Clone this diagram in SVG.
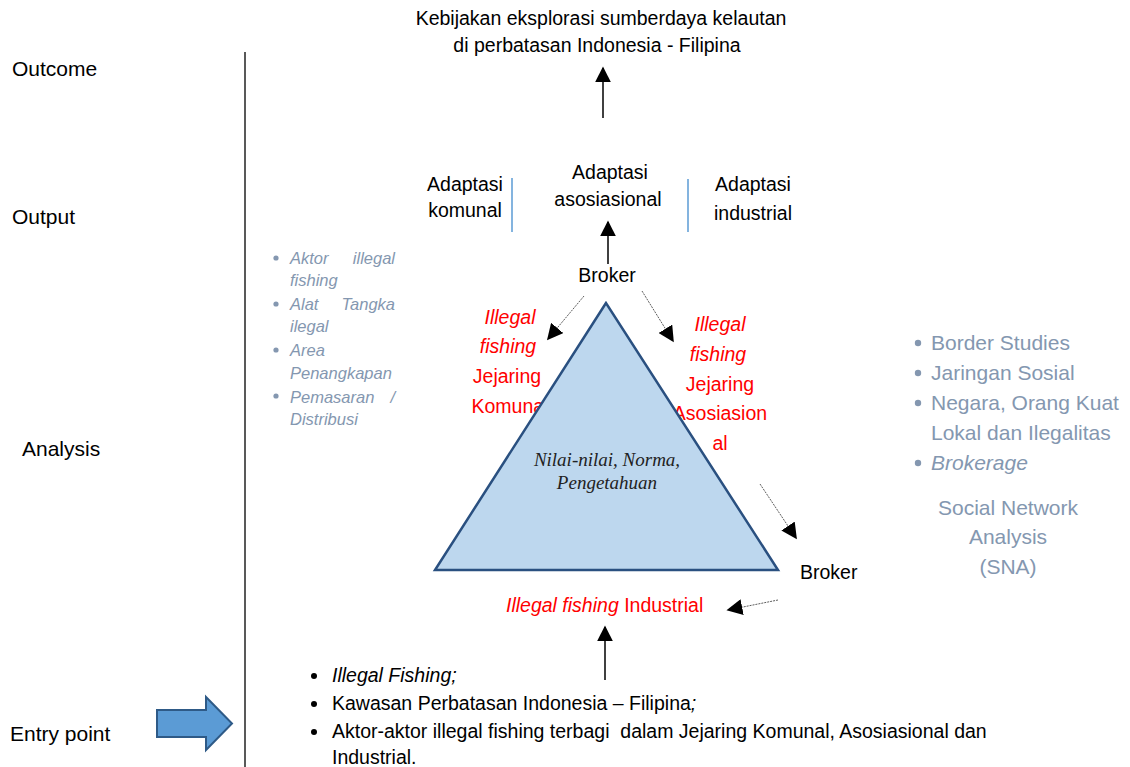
<svg xmlns="http://www.w3.org/2000/svg" width="1130" height="767" viewBox="0 0 1130 767">
<defs>
<style>
text{font-family:"Liberation Sans",Arial,sans-serif;font-size:19.5px;fill:#000}
.c{text-anchor:middle}
.red{fill:#FF0000}
.it{font-style:italic}
.gb{fill:#8497B0}
.sm{font-size:16.5px}
.lg{font-size:21px}
.st{font-size:21px}
.bl{font-size:19.5px;white-space:pre}
.serif{font-family:"Liberation Serif","Times New Roman",serif;font-style:italic;font-size:19px;fill:#222}
.solid{stroke:#000;stroke-width:1.5;fill:none}
.thin{stroke:#333;stroke-width:0.8;stroke-dasharray:2 1;fill:none}
</style>
<marker id="ah2" viewBox="0 0 10 10" refX="9" refY="5" markerWidth="16" markerHeight="16" markerUnits="userSpaceOnUse" orient="auto">
<path d="M0,0 L10,5 L0,10 z" fill="#000"/>
</marker>
</defs>
<rect width="1130" height="767" fill="#fff"/>

<g id="stage-labels">
<text class="st" x="12" y="76">Outcome</text>
<text class="st" x="12" y="224">Output</text>
<text class="st" x="22" y="456">Analysis</text>
<text class="st" x="10" y="741">Entry point</text>
<line x1="245" y1="52" x2="245" y2="767" stroke="#222" stroke-width="1.5"/>
</g>

<g id="outcome">
<text class="c" x="601" y="25">Kebijakan eksplorasi sumberdaya kelautan</text>
<text class="c" x="597" y="52">di perbatasan Indonesia - Filipina</text>
</g>

<g id="output">
<text class="c" x="465" y="191">Adaptasi</text>
<text class="c" x="465" y="217">komunal</text>
<line x1="512" y1="178" x2="512" y2="232" stroke="#5B9BD5" stroke-width="1.5"/>
<text class="c" x="610" y="179">Adaptasi</text>
<text class="c" x="608" y="206">asosiasional</text>
<line x1="688" y1="179" x2="688" y2="232" stroke="#5B9BD5" stroke-width="1.5"/>
<text class="c" x="753" y="191">Adaptasi</text>
<text class="c" x="753" y="220">industrial</text>
</g>

<g id="broker-top"><text class="c" x="607" y="282">Broker</text></g>
<g id="broker-right"><text x="800" y="579">Broker</text></g>

<g id="jejaring-komunal">
<text class="c red it" x="510" y="324">Illegal</text>
<text class="c red it" x="508" y="353">fishing</text>
<text class="c red" x="507" y="383">Jejaring</text>
<text class="c red" x="510" y="413">Komunal</text>
</g>

<g id="jejaring-asosiasional">
<text class="c red it" x="720" y="331">Illegal</text>
<text class="c red it" x="718" y="361">fishing</text>
<text class="c red" x="720" y="391">Jejaring</text>
<text class="c red" x="720" y="420">Asosiasion</text>
<text class="c red" x="720" y="450">al</text>
</g>

<g id="triangle">
<polygon points="606,303 435,570 778,570" fill="#BDD7EE" stroke="#2A5080" stroke-width="2.5"/>
<text class="c serif" x="607" y="466">Nilai-nilai, Norma,</text>
<text class="c serif" x="607" y="489">Pengetahuan</text>
</g>

<g id="industrial">
<text x="506" y="612" class="red"><tspan class="it">Illegal fishing</tspan> Industrial</text>
</g>

<g id="left-list">
<circle cx="276" cy="258" r="2.6" fill="#8497B0"/>
<circle cx="276" cy="304" r="2.6" fill="#8497B0"/>
<circle cx="276" cy="350" r="2.6" fill="#8497B0"/>
<circle cx="276" cy="396" r="2.6" fill="#8497B0"/>
<text class="gb it sm" x="290" y="264">Aktor</text>
<text class="gb it sm" x="395" y="264" text-anchor="end">illegal</text>
<text class="gb it sm" x="290" y="286">fishing</text>
<text class="gb it sm" x="290" y="310">Alat</text>
<text class="gb it sm" x="395" y="310" text-anchor="end">Tangka</text>
<text class="gb it sm" x="290" y="332">ilegal</text>
<text class="gb it sm" x="290" y="356">Area</text>
<text class="gb it sm" x="290" y="379">Penangkapan</text>
<text class="gb it sm" x="290" y="403">Pemasaran</text>
<text class="gb it sm" x="395" y="403" text-anchor="end">/</text>
<text class="gb it sm" x="290" y="425">Distribusi</text>
</g>

<g id="right-list">
<circle cx="918" cy="343" r="3.2" fill="#8497B0"/>
<circle cx="918" cy="373" r="3.2" fill="#8497B0"/>
<circle cx="918" cy="403" r="3.2" fill="#8497B0"/>
<circle cx="918" cy="463" r="3.2" fill="#8497B0"/>
<text class="gb lg" x="931" y="350">Border Studies</text>
<text class="gb lg" x="931" y="380">Jaringan Sosial</text>
<text class="gb lg" x="931" y="410">Negara, Orang Kuat</text>
<text class="gb lg" x="931" y="440">Lokal dan Ilegalitas</text>
<text class="gb lg it" x="931" y="470">Brokerage</text>
<text class="gb lg c" x="1008" y="515">Social Network</text>
<text class="gb lg c" x="1008" y="544">Analysis</text>
<text class="gb lg c" x="1008" y="574">(SNA)</text>
</g>

<g id="entry">
<circle cx="314" cy="676" r="3" fill="#000"/>
<circle cx="314" cy="704" r="3" fill="#000"/>
<circle cx="314" cy="732" r="3" fill="#000"/>
<text x="332" y="682" class="bl it">Illegal Fishing;</text>
<text x="332" y="710" class="bl">Kawasan Perbatasan Indonesia – Filipina<tspan class="it">;</tspan></text>
<text x="332" y="738" class="bl">Aktor-aktor illegal fishing terbagi  dalam Jejaring Komunal, Asosiasional dan</text>
<text x="332" y="764" class="bl">Industrial.</text>
<polygon points="157,710 206,710 206,697 232,723.5 206,750 206,737 157,737" fill="#5B9BD5" stroke="#2E5A87" stroke-width="2"/>
</g>

<g id="connectors">
<line class="solid" x1="603" y1="118" x2="603" y2="68" marker-end="url(#ah2)"/>
<line class="solid" x1="608" y1="264" x2="608" y2="222" marker-end="url(#ah2)"/>
<line class="thin" x1="584" y1="296" x2="548" y2="339" marker-end="url(#ah2)"/>
<line class="thin" x1="642" y1="291" x2="673" y2="341" marker-end="url(#ah2)"/>
<line class="thin" x1="760" y1="484" x2="796" y2="538" marker-end="url(#ah2)"/>
<line class="thin" x1="778" y1="600" x2="728" y2="610" marker-end="url(#ah2)"/>
<line class="solid" x1="605" y1="680" x2="605" y2="627" marker-end="url(#ah2)"/>
</g>
</svg>
